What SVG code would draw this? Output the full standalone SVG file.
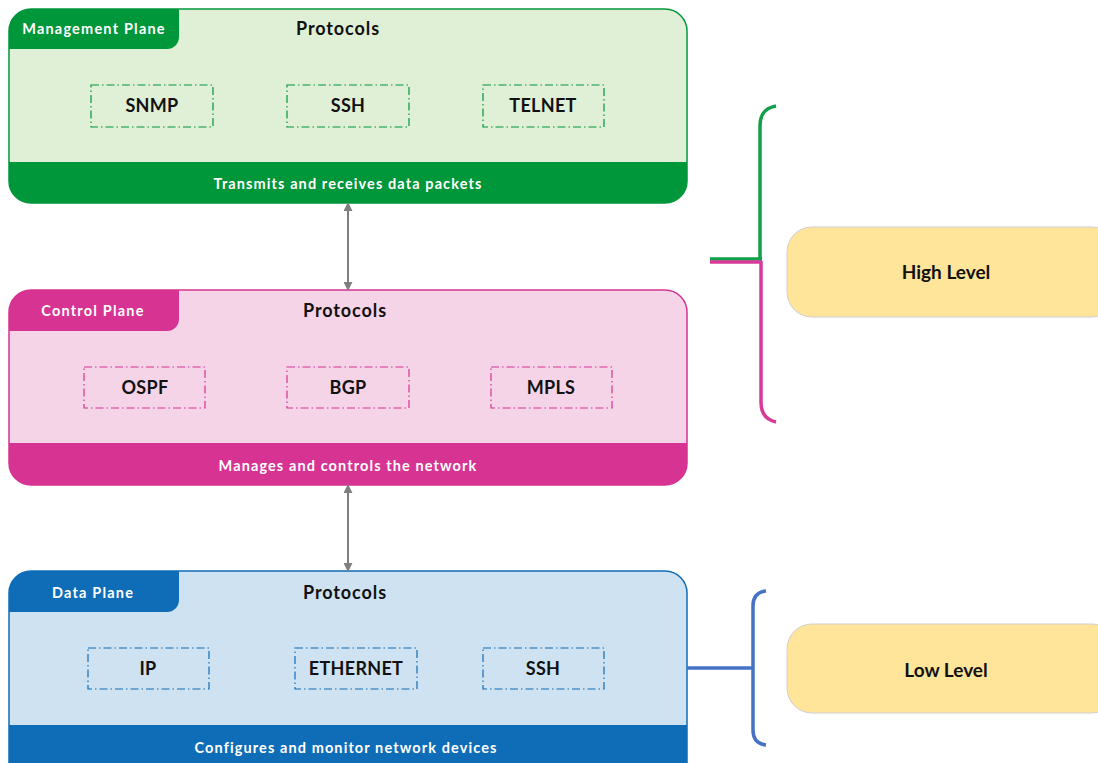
<svg xmlns="http://www.w3.org/2000/svg" width="1098" height="763" viewBox="0 0 1098 763">
<defs>
<style>
text{font-family:Lato,"Open Sans","Liberation Sans",sans-serif;font-weight:bold;text-anchor:middle;dominant-baseline:central}
.tab{fill:#fff;font-size:14.5px;letter-spacing:1.2px}
.head{fill:#111;font-size:18px;letter-spacing:0.9px}
.proto{fill:#111;font-size:18px;letter-spacing:0.3px}
.band{fill:#fff;font-size:14.5px;letter-spacing:1.1px}
.lvl{fill:#111;font-size:19px}
.pbox{stroke-width:1.2;stroke-dasharray:8 3 1.5 3}
.g .pbox{fill:none;stroke:#00963A}
.m .pbox{fill:none;stroke:#D63393}
.b .pbox{fill:none;stroke:#0F6DB8}
.conn{stroke:#7f7f7f;stroke-width:2;fill:none}
.level{fill:#FFE599;stroke:#cfcfcf;stroke-width:1}
</style>
<marker id="ah" viewBox="0 0 10 10" refX="9" refY="5" markerWidth="4.5" markerHeight="4.5" orient="auto-start-reverse">
<path d="M0,0 L10,5 L0,10 z" fill="#7f7f7f"/>
</marker>
<clipPath id="c1"><rect x="9" y="9" width="678" height="194" rx="22"/></clipPath>
<clipPath id="c2"><rect x="9" y="290" width="678" height="195" rx="22"/></clipPath>
<clipPath id="c3"><rect x="9" y="571" width="678" height="215" rx="22"/></clipPath>
</defs>
<rect width="1098" height="763" fill="#fff"/>

<g id="management-plane" class="g">
<g clip-path="url(#c1)">
<rect x="9" y="9" width="678" height="194" fill="#E0F0D6"/>
<path d="M9,9 H179 V37 A12,12 0 0 1 167,49 H9 Z" fill="#00963A"/>
<rect x="9" y="162" width="678" height="41" fill="#00963A"/>
</g>
<rect x="9" y="9" width="678" height="194" rx="22" fill="none" stroke="#00963A" stroke-width="1.5"/>
<text class="tab" x="94" y="28">Management Plane</text>
<text class="head" x="338" y="28">Protocols</text>
<rect class="pbox" x="91" y="85" width="122" height="42"/>
<text class="proto" x="152" y="105">SNMP</text>
<rect class="pbox" x="287" y="85" width="122" height="42"/>
<text class="proto" x="348" y="105">SSH</text>
<rect class="pbox" x="483" y="85" width="121" height="42"/>
<text class="proto" x="543" y="105">TELNET</text>
<text class="band" x="348" y="183">Transmits and receives data packets</text>
</g>

<g id="control-plane" class="m">
<g clip-path="url(#c2)">
<rect x="9" y="290" width="678" height="195" fill="#F5D4E8"/>
<path d="M9,290 H179 V319 A12,12 0 0 1 167,331 H9 Z" fill="#D63393"/>
<rect x="9" y="443" width="678" height="42" fill="#D63393"/>
</g>
<rect x="9" y="290" width="678" height="195" rx="22" fill="none" stroke="#D63393" stroke-width="1.5"/>
<text class="tab" x="93" y="310">Control Plane</text>
<text class="head" x="345" y="310">Protocols</text>
<rect class="pbox" x="84" y="367" width="121" height="41"/>
<text class="proto" x="145" y="387">OSPF</text>
<rect class="pbox" x="287" y="367" width="122" height="41"/>
<text class="proto" x="348" y="387">BGP</text>
<rect class="pbox" x="491" y="367" width="121" height="41"/>
<text class="proto" x="551" y="387">MPLS</text>
<text class="band" x="348" y="465">Manages and controls the network</text>
</g>

<g id="data-plane" class="b">
<g clip-path="url(#c3)">
<rect x="9" y="571" width="678" height="200" fill="#CFE2F1"/>
<path d="M9,571 H179 V600 A12,12 0 0 1 167,612 H9 Z" fill="#0F6DB8"/>
<rect x="9" y="725" width="678" height="50" fill="#0F6DB8"/>
</g>
<rect x="9" y="571" width="678" height="215" rx="22" fill="none" stroke="#0F6DB8" stroke-width="1.5"/>
<text class="tab" x="93" y="592">Data Plane</text>
<text class="head" x="345" y="592">Protocols</text>
<rect class="pbox" x="88" y="648" width="121" height="41"/>
<text class="proto" x="148" y="668">IP</text>
<rect class="pbox" x="295" y="648" width="122" height="41"/>
<text class="proto" x="356" y="668">ETHERNET</text>
<rect class="pbox" x="483" y="648" width="121" height="41"/>
<text class="proto" x="543" y="668">SSH</text>
<text class="band" x="346" y="747">Configures and monitor network devices</text>
</g>

<g id="high-level">
<rect class="level" x="787" y="227" width="330" height="90" rx="25"/>
<text class="lvl" x="946" y="271">High Level</text>
</g>

<g id="low-level">
<rect class="level" x="787" y="624" width="330" height="89" rx="25"/>
<text class="lvl" x="946" y="669">Low Level</text>
</g>

<g id="connectors">
<line class="conn" x1="348" y1="203" x2="348" y2="290" marker-start="url(#ah)" marker-end="url(#ah)"/>
<line class="conn" x1="348" y1="485" x2="348" y2="571" marker-start="url(#ah)" marker-end="url(#ah)"/>
<path d="M776,106 C765,108 760,114 760,126 V259 M710,259 H762" fill="none" stroke="#10A04A" stroke-width="3.5"/>
<path d="M710,262 H762 M761,261 V402 C761,414 766,420 776,422" fill="none" stroke="#D83A9A" stroke-width="3.5"/>
<path d="M766,591 C757,592 753,598 753,606 V730 C753,739 757,744 766,745 M687,668 H753" fill="none" stroke="#4472C4" stroke-width="3.5"/>
</g>
</svg>
